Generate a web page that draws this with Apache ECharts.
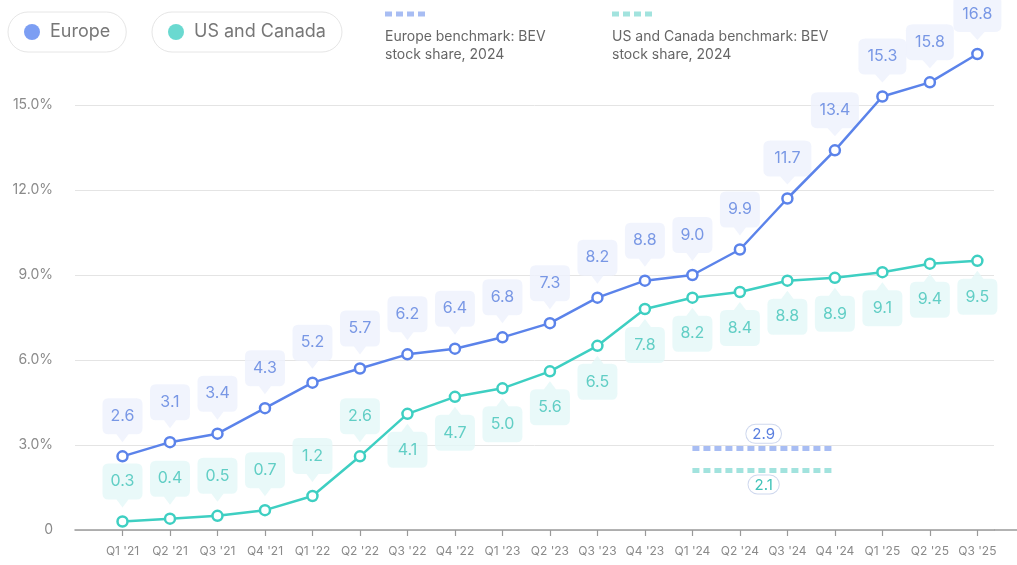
<!DOCTYPE html>
<html>
<head>
<meta charset="utf-8">
<script src="https://cdn.jsdelivr.net/npm/echarts@6/dist/echarts.min.js"></script>
<style>
  html, body { margin: 0; padding: 0; background: #ffffff; }
  #chart { width: 1017px; height: 565px; }
</style>
</head>
<body>
<div id="chart"></div>
<script>
// Quarterly BEV share, per cent
const quarters = ["Q1 '21", "Q2 '21", "Q3 '21", "Q4 '21", "Q1 '22", "Q2 '22", "Q3 '22", "Q4 '22",
                  "Q1 '23", "Q2 '23", "Q3 '23", "Q4 '23", "Q1 '24", "Q2 '24", "Q3 '24", "Q4 '24",
                  "Q1 '25", "Q2 '25", "Q3 '25"];
const europe   = [2.6, 3.1, 3.4, 4.3, 5.2, 5.7, 6.2, 6.4, 6.8, 7.3, 8.2, 8.8, 9.0, 9.9, 11.7, 13.4, 15.3, 15.8, 16.8];
const usCanada = [0.3, 0.4, 0.5, 0.7, 1.2, 2.6, 4.1, 4.7, 5.0, 5.6, 6.5, 7.8, 8.2, 8.4, 8.8, 8.9, 9.1, 9.4, 9.5];

// 2024 stock-share benchmarks, drawn across the 2024 quarters
const europeBenchmark = 2.9;
const usCanadaBenchmark = 2.1;
const benchmarkQuarters = ["Q1 '24", "Q4 '24"];

const yTicks = [0, 3, 6, 9, 12, 15];

// US and Canada callouts sit under the line from this quarter on
const usBelowFrom = quarters.indexOf("Q3 '22");

const FONT = 'Inter, "Noto Sans", sans-serif';
const EU = { line: '#5b83ea', dot: '#5b86f0', box: '#edf1fd', text: '#5a7fdf', bench: '#a8bdf3' };
const US = { line: '#3ecfc2', dot: '#45cfc4', box: '#e4f8f7', text: '#3fc3b8', bench: '#a2e3de' };

// Rounded callout shapes: pointer at the bottom / at the top
const calloutDown = 'path://M6,0H34Q40,0 40,6V30Q40,36 34,36H26L20,44L14,36H6Q0,36 0,30V6Q0,0 6,0Z';
const calloutUp   = 'path://M6,8H14L20,0L26,8H34Q40,8 40,14V38Q40,44 34,44H6Q0,44 0,38V14Q0,8 6,8Z';

const pts = arr => arr.map((v, i) => [i, v]);
const calloutSize = val => [val[1] >= 10 ? 48 : 40, 44];

function calloutSeries(name, data, c, above) {
  return {
    type: 'scatter',
    name: name,
    data: data,
    clip: false,
    silent: true,
    z: 1,
    symbol: above ? calloutDown : calloutUp,
    symbolSize: calloutSize,
    symbolOffset: [0, above ? -36 : 32],
    itemStyle: { color: c.box },
    label: {
      show: true,
      position: 'inside',
      offset: [0, above ? -4 : 4],
      formatter: p => p.value[1].toFixed(1),
      color: c.text,
      fontSize: 16,
      fontFamily: FONT
    }
  };
}

function benchmarkMark(value, c, labelPos) {
  const i0 = quarters.indexOf(benchmarkQuarters[0]);
  const i1 = quarters.indexOf(benchmarkQuarters[1]);
  return {
    silent: true,
    symbol: 'none',
    data: [[{ coord: [i0, value] }, { coord: [i1, value] }]],
    lineStyle: { type: [7, 4], width: 5, color: c.bench },
    label: {
      show: true,
      position: labelPos,
      distance: 5,
      formatter: value.toFixed(1),
      color: c.text,
      fontSize: 15,
      fontFamily: FONT,
      backgroundColor: '#ffffff',
      borderColor: '#cfd8ee',
      borderWidth: 1,
      borderRadius: 10,
      padding: [2, 6, 1, 6]
    }
  };
}

function lineSeries(name, values, c, mark) {
  return {
    type: 'line',
    name: name,
    data: pts(values),
    clip: false,
    z: 3,
    symbol: 'circle',
    symbolSize: 10,
    showAllSymbol: true,
    lineStyle: { color: c.line, width: 2.5 },
    itemStyle: { color: '#ffffff', borderColor: c.line, borderWidth: 2.5 },
    markLine: mark
  };
}

function pill(name, left, c) {
  return {
    left: left,
    top: 12,
    data: [{ name: name, itemStyle: { color: c.dot, borderWidth: 0 } }],
    icon: 'circle',
    itemWidth: 16,
    itemHeight: 16,
    padding: [11, 16, 11, 16],
    borderColor: '#e6e6e6',
    borderWidth: 1,
    borderRadius: 21,
    textStyle: { fontSize: 18, color: '#777777', fontFamily: FONT, padding: [0, 0, 0, 5] }
  };
}

const indices = quarters.map((_, i) => i);
const usAbove = pts(usCanada).filter(d => d[0] < usBelowFrom);
const usBelow = pts(usCanada).filter(d => d[0] >= usBelowFrom);

const option = {
  animation: false,
  backgroundColor: '#ffffff',
  grid: { left: 75, right: 23, top: 105, bottom: 35 },
  legend: [pill('Europe', 8, EU), pill('US and Canada', 152, US)],
  xAxis: {
    type: 'value',
    min: -1,
    max: 18.35,
    splitLine: { show: false },
    axisLine: { onZero: false, lineStyle: { color: '#9a9a9a', width: 1.5 } },
    axisTick: { show: true, customValues: indices, length: 6, lineStyle: { color: '#9a9a9a', width: 1.2 } },
    axisLabel: {
      customValues: indices,
      formatter: v => quarters[v] || '',
      color: '#8a8a8a',
      fontSize: 12,
      fontFamily: FONT,
      margin: 15
    }
  },
  yAxis: {
    type: 'value',
    min: 0,
    max: 15,
    interval: 3,
    axisLine: { show: false, onZero: false },
    axisTick: { show: false },
    splitLine: { lineStyle: { color: '#e4e4e4', width: 1 } },
    axisLabel: {
      customValues: yTicks,
      formatter: v => (v === 0 ? '0' : v.toFixed(1) + '%'),
      color: '#8a8a8a',
      fontSize: 14,
      fontFamily: FONT,
      margin: 22
    }
  },
  graphic: [
    { type: 'line', shape: { x1: 385, y1: 14, x2: 428, y2: 14 },
      style: { stroke: EU.bench, lineWidth: 5, lineDash: [7, 4] } },
    { type: 'text', left: 385, top: 28,
      style: { text: 'Europe benchmark: BEV\nstock share, 2024', fontSize: 14, lineHeight: 18, fill: '#666666', fontFamily: FONT } },
    { type: 'line', shape: { x1: 612, y1: 14, x2: 655, y2: 14 },
      style: { stroke: US.bench, lineWidth: 5, lineDash: [7, 4] } },
    { type: 'text', left: 612, top: 28,
      style: { text: 'US and Canada benchmark: BEV\nstock share, 2024', fontSize: 14, lineHeight: 18, fill: '#666666', fontFamily: FONT } },
    // axis baseline runs on past the gridlines to the edge
    { type: 'line', shape: { x1: 994, y1: 530, x2: 1017, y2: 530 },
      style: { stroke: '#9a9a9a', lineWidth: 1.5 } }
  ],
  series: [
    calloutSeries('Europe', pts(europe), EU, true),
    calloutSeries('US and Canada', usAbove, US, true),
    calloutSeries('US and Canada', usBelow, US, false),
    lineSeries('Europe', europe, EU, benchmarkMark(europeBenchmark, EU, 'insideMiddleTop')),
    lineSeries('US and Canada', usCanada, US, benchmarkMark(usCanadaBenchmark, US, 'insideMiddleBottom'))
  ]
};

const chart = echarts.init(document.getElementById('chart'), null, { renderer: 'canvas' });
chart.setOption(option);
</script>
</body>
</html>
